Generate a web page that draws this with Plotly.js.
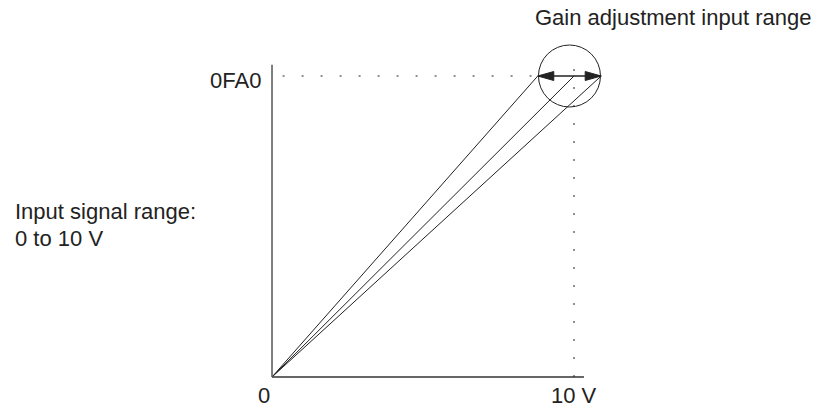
<!DOCTYPE html>
<html>
<head>
<meta charset="utf-8">
<script src="https://cdn.plot.ly/plotly-3.0.1.min.js"></script>
<style>html,body{margin:0;padding:0;background:#fff;}#chart{width:816px;height:409px;}</style>
</head>
<body>
<div id="chart"></div>
<script>
// ---- data ----
const inputVolts = [0, 10];            // input signal range (V)
const fullScale = 4000;                // 0FA0 hex
const gainEnds = [8.8, 10, 10.9];      // gain-adjusted end points (V) at full scale
const axisMaxX = 10.33;
const axisMaxY = 4150;
const yTickLabel = "0FA0";
const xTickLabels = ["0", "10 V"];
const inputRangeLines = ["Input signal range:", "0 to 10 V"];
const gainRangeLabel = "Gain adjustment input range";

const font = {family: "Liberation Sans, Arial, sans-serif", size: 22, color: "#222"};
const ink = "#222";

// ---- traces: three gain lines from origin ----
const traces = gainEnds.map(g => ({
  x: [0, g], y: [0, fullScale],
  mode: "lines", type: "scatter",
  line: {color: ink, width: 1},
  hoverinfo: "skip", showlegend: false
}));

const gMin = Math.min(...gainEnds), gMax = Math.max(...gainEnds);
const gMid = (gMin + gMax) / 2;

const shapes = [
  // axes
  {type: "line", xref: "x", yref: "y", x0: 0, y0: 0, x1: axisMaxX, y1: 0, line: {color: "#333", width: 1.5}},
  {type: "line", xref: "x", yref: "y", x0: 0, y0: 0, x1: 0, y1: axisMaxY, line: {color: "#555", width: 1.5}},
  // dotted guides
  {type: "line", xref: "x", yref: "y", x0: 0.35, y0: fullScale, x1: gMin, y1: fullScale, line: {color: ink, width: 1, dash: "2px,17px"}},
  {type: "line", xref: "x", yref: "y", x0: inputVolts[1], y0: 0, x1: inputVolts[1], y1: 4190, line: {color: ink, width: 1, dash: "2px,16px"}},
  // circle around the gain range
  {type: "circle", xref: "x", yref: "y", xsizemode: "pixel", ysizemode: "pixel",
   xanchor: gMid, yanchor: fullScale, x0: -31, x1: 31, y0: -31, y1: 31,
   line: {color: ink, width: 1}},
  // double arrow shaft
  {type: "line", xref: "x", yref: "y", x0: gMin, y0: fullScale, x1: gMax, y1: fullScale, line: {color: ink, width: 1.5}},
  // arrowheads
  {type: "path", xref: "x", yref: "y", xsizemode: "pixel", ysizemode: "pixel",
   xanchor: gMin, yanchor: fullScale, path: "M0,0 L16,4.5 L16,-4.5 Z",
   fillcolor: ink, line: {color: ink, width: 1}},
  {type: "path", xref: "x", yref: "y", xsizemode: "pixel", ysizemode: "pixel",
   xanchor: gMax, yanchor: fullScale, path: "M0,0 L-16,4.5 L-16,-4.5 Z",
   fillcolor: ink, line: {color: ink, width: 1}}
];

const annotations = [
  {x: -0.3, y: 3945, xref: "x", yref: "y", text: yTickLabel, showarrow: false, xanchor: "right", yanchor: "middle", font},
  {x: -0.25, y: -420, xref: "x", yref: "y", text: xTickLabels[0], showarrow: false, xanchor: "center", yanchor: "bottom", borderpad: 0, font},
  {x: inputVolts[1], y: -420, xref: "x", yref: "y", text: xTickLabels[1], showarrow: false, xanchor: "center", yanchor: "bottom", borderpad: 0, font},
  {x: -8.58, y: 2193, xref: "x", yref: "y", text: inputRangeLines[0], showarrow: false, xanchor: "left", yanchor: "middle", align: "left", font},
  {x: -8.58, y: 1847, xref: "x", yref: "y", text: inputRangeLines[1], showarrow: false, xanchor: "left", yanchor: "middle", align: "left", font},
  {x: 8.64, y: 4784, xref: "x", yref: "y", text: gainRangeLabel, showarrow: false, xanchor: "left", yanchor: "middle", font}
];

const layout = {
  width: 816, height: 409,
  margin: {l: 0, r: 0, t: 0, b: 0, pad: 0},
  paper_bgcolor: "#fff", plot_bgcolor: "#fff",
  xaxis: {range: [-9.007, 18.013], visible: false, fixedrange: true},
  yaxis: {range: [-425.2, 5010], visible: false, fixedrange: true},
  shapes, annotations, showlegend: false
};

Plotly.newPlot("chart", traces, layout, {staticPlot: true, displayModeBar: false});
</script>
</body>
</html>
